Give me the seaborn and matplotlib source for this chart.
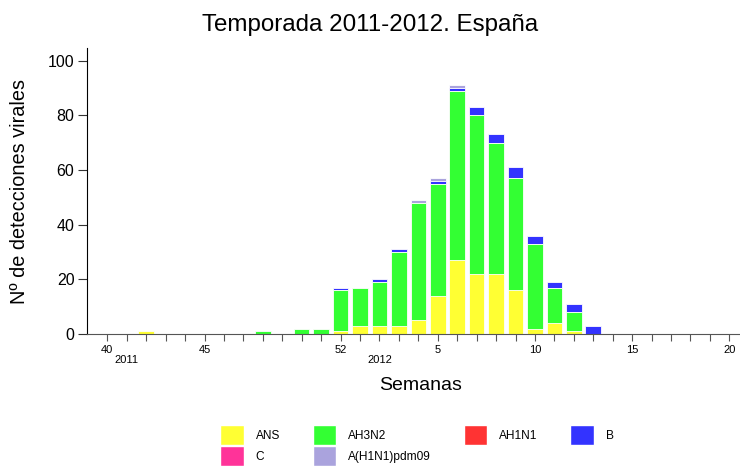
import seaborn as sns
import matplotlib.pyplot as plt
import pandas as pd
from matplotlib.patches import Patch
from matplotlib.transforms import blended_transform_factory

# semanas de la temporada 2011-2012
weeks = list(range(40, 53)) + list(range(1, 21))
ans = [0, 0, 1, 0, 0, 0, 0, 0, 0, 0, 0, 0, 1,
       3, 3, 3, 5, 14, 27, 22, 22, 16, 2, 4, 1, 0, 0, 0, 0, 0, 0, 0, 0]
ah3n2 = [0, 0, 0, 0, 0, 0, 0, 0, 1, 0, 2, 2, 15,
         14, 16, 27, 43, 41, 62, 58, 48, 41, 31, 13, 7, 0, 0, 0, 0, 0, 0, 0, 0]
ah1n1 = [0] * 33
b = [0, 0, 0, 0, 0, 0, 0, 0, 0, 0, 0, 0, 1,
     0, 1, 1, 0, 1, 1, 3, 3, 4, 3, 2, 3, 3, 0, 0, 0, 0, 0, 0, 0]
c = [0] * 33
pdm09 = [0, 0, 0, 0, 0, 0, 0, 0, 0, 0, 0, 0, 0,
         0, 0, 0, 1, 1, 1, 0, 0, 0, 0, 0, 0, 0, 0, 0, 0, 0, 0, 0, 0]

series = ['ANS', 'AH3N2', 'AH1N1', 'B', 'C', 'A(H1N1)pdm09']
colors = ['#ffff33', '#33ff33', '#ff3333', '#3333ff', '#ff3399', '#aaa3dd']
labeled_weeks = [40, 45, 52, 5, 10, 15, 20]

df = pd.DataFrame({'semana': [str(w) for w in weeks], 'ANS': ans, 'AH3N2': ah3n2,
                   'AH1N1': ah1n1, 'B': b, 'C': c, 'A(H1N1)pdm09': pdm09})
cum = df[series].cumsum(axis=1)
order = df['semana'].tolist()

sns.set_style('ticks')
plt.rcParams['font.family'] = ['Liberation Sans', 'DejaVu Sans']
plt.rcParams['text.color'] = 'black'
plt.rcParams['axes.labelcolor'] = 'black'
plt.rcParams['xtick.labelcolor'] = 'black'
plt.rcParams['ytick.labelcolor'] = 'black'

fig = plt.figure(figsize=(7.4, 4.66), dpi=100)
ax = fig.add_axes([0.118, 0.2833, 0.882, 0.6131])

# barras apiladas: se dibuja la suma acumulada de arriba hacia abajo
for s, col in zip(reversed(series), reversed(colors)):
    sns.barplot(x=df['semana'], y=cum[s], order=order, color=col, saturation=1,
                width=0.8, edgecolor='white', linewidth=0.6, errorbar=None, ax=ax)

ax.set_xticks(range(len(weeks)))
ax.set_xticklabels([str(w) if w in labeled_weeks else '' for w in weeks])
ax.set_xlim(-1.03, 32.55)
ax.set_ylim(0, 104.5)
ax.set_yticks(range(0, 101, 20))
sns.despine(ax=ax)
ax.spines['left'].set_color('black')
ax.spines['bottom'].set_color('#555555')
ax.tick_params(axis='y', length=6.3, width=0.8, labelsize=11.5, pad=3, color='#333333')
ax.tick_params(axis='x', length=4.8, width=0.8, labelsize=8, pad=3, color='#555555')

trans = blended_transform_factory(ax.transData, ax.transAxes)
ax.text(weeks.index(41), -0.073, '2011', transform=trans, ha='center', va='top', fontsize=8)
ax.text(weeks.index(2), -0.073, '2012', transform=trans, ha='center', va='top', fontsize=8)

ax.set_xlabel('Semanas', fontsize=14)
ax.xaxis.set_label_coords(0.51, -0.15)
ax.set_ylabel('Nº de detecciones virales', fontsize=14.3)
ax.yaxis.set_label_coords(-0.089, 0.5)

fig.suptitle('Temporada 2011-2012. España', fontsize=17.4, y=1 - 25 / 466, va='center')

handles = [Patch(facecolor=col, edgecolor='white') for col in colors]
idx = [0, 4, 1, 5, 2, 3]
fig.legend([handles[i] for i in idx], [series[i] for i in idx], loc='upper center',
           bbox_to_anchor=(417 / 740, 1 - 425 / 466), ncol=4, frameon=False, fontsize=8.6,
           handlelength=1.95, handleheight=2.2, labelspacing=0.1, handletextpad=1.0,
           columnspacing=2.75, borderpad=0, borderaxespad=0)

fig.savefig('out.png', dpi=100)
